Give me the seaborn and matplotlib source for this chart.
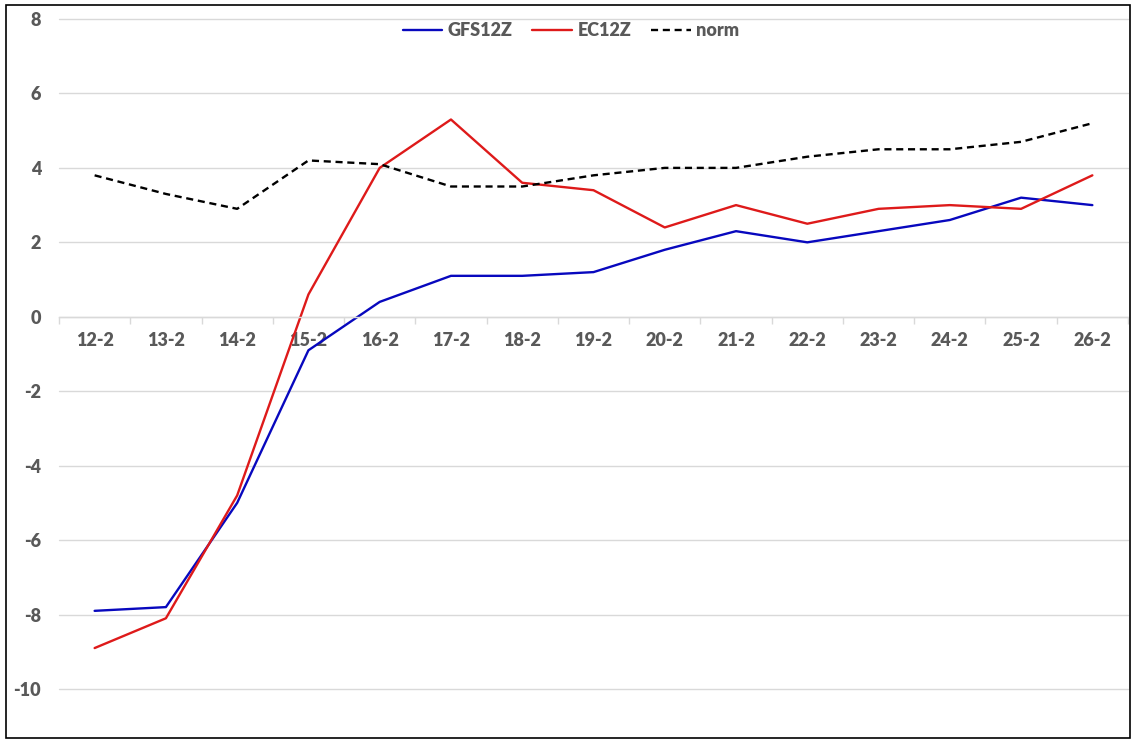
import matplotlib
matplotlib.use("Agg")
import matplotlib.pyplot as plt
from matplotlib.patches import Rectangle
from matplotlib.ticker import FixedLocator
import seaborn as sns

# Data
dates = ["12-2", "13-2", "14-2", "15-2", "16-2", "17-2", "18-2", "19-2",
         "20-2", "21-2", "22-2", "23-2", "24-2", "25-2", "26-2"]
gfs12z = [-7.9, -7.8, -5.0, -0.9, 0.4, 1.1, 1.1, 1.2, 1.8, 2.3, 2.0, 2.3, 2.6, 3.2, 3.0]
ec12z = [-8.9, -8.1, -4.8, 0.6, 4.0, 5.3, 3.6, 3.4, 2.4, 3.0, 2.5, 2.9, 3.0, 2.9, 3.8]
norm = [3.8, 3.3, 2.9, 4.2, 4.1, 3.5, 3.5, 3.8, 4.0, 4.0, 4.3, 4.5, 4.5, 4.7, 5.2]
y_ticks = [-10, -8, -6, -4, -2, 0, 2, 4, 6, 8]

sns.set_theme(style="white")
plt.rcParams["font.family"] = ["Lato", "DejaVu Sans"]

TEXT = "#595959"
GRID = "#D9D9D9"
W, H = 1133, 742

fig = plt.figure(figsize=(W / 100, H / 100), dpi=100)
ax = fig.add_axes([59 / W, 1 - 689 / H, (1128 - 59) / W, (689 - 19) / H])

x = list(range(len(dates)))
sns.lineplot(x=x, y=gfs12z, ax=ax, color="#0808BE", lw=1.7, label="GFS12Z")
sns.lineplot(x=x, y=ec12z, ax=ax, color="#DE1A1A", lw=1.7, label="EC12Z")
sns.lineplot(x=x, y=norm, ax=ax, color="black", lw=1.7, label="norm",
             dashes=False, linestyle=(0, (3, 2)))

ax.set_xlim(-0.5, len(dates) - 0.5)
ax.set_ylim(-10, 8)
ax.set_yticks(y_ticks)
ax.set_yticklabels([str(v) for v in y_ticks])
ax.set_xticks(x)
ax.set_xticklabels(dates)
ax.xaxis.set_minor_locator(FixedLocator([i - 0.5 for i in range(len(dates) + 1)]))

ax.grid(axis="y", color=GRID, lw=1)
for gl in ax.yaxis.get_gridlines():
    gl.set_clip_on(False)
ax.set_axisbelow(True)
for side in ["top", "right", "left"]:
    ax.spines[side].set_visible(False)
ax.spines["bottom"].set_position(("data", 0))
ax.spines["bottom"].set_color(GRID)
ax.spines["bottom"].set_linewidth(1)

ax.tick_params(axis="x", which="major", length=0, pad=11, labelsize=13, labelcolor=TEXT)
ax.tick_params(axis="x", which="minor", length=5, width=1, color=GRID, direction="out", bottom=True)
ax.tick_params(axis="y", length=0, pad=13, labelsize=13, labelcolor=TEXT)
for lab in ax.get_xticklabels() + ax.get_yticklabels():
    lab.set_fontweight("heavy")

leg = ax.legend(loc="center", bbox_to_anchor=((571 - 59) / (1128 - 59), (689 - 31) / (689 - 19)),
                ncol=3, frameon=False, fontsize=13, handlelength=2.2, columnspacing=1.1,
                handletextpad=0.3)
for t in leg.get_texts():
    t.set_color(TEXT)
    t.set_fontweight("heavy")

fig.patches.append(Rectangle((6 / W, 1 - 738 / H), (1130 - 6) / W, (738 - 5) / H,
                             transform=fig.transFigure, fill=False, ec="black", lw=1.2))

fig.savefig("out.png", dpi=100)
